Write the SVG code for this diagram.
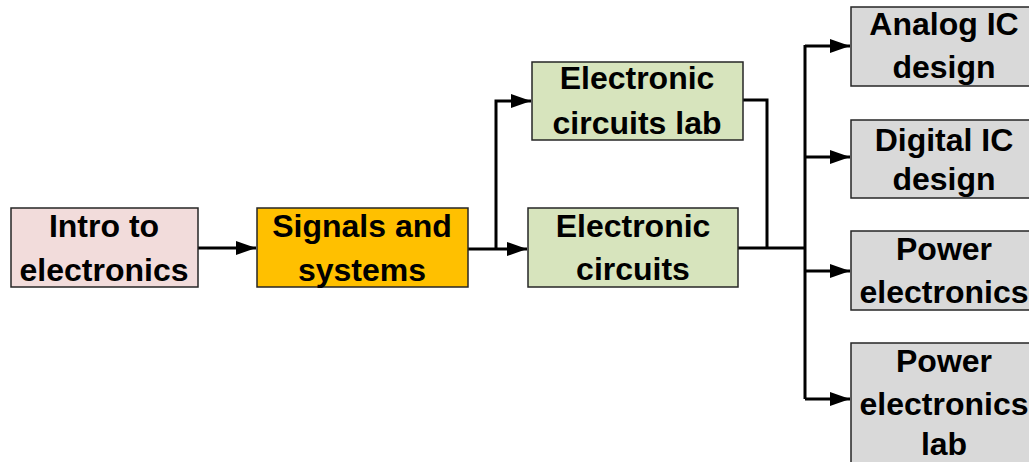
<svg xmlns="http://www.w3.org/2000/svg" width="1029" height="462" viewBox="0 0 1029 462">
<style>
.box{stroke:#262626;stroke-width:1.5}
.t{font-family:"Liberation Sans",Arial,sans-serif;font-weight:bold;font-size:32px;text-anchor:middle;fill:#000}
.c{fill:none;stroke:#000;stroke-width:3}
</style>
<defs>
<marker id="ah" markerUnits="userSpaceOnUse" markerWidth="20" markerHeight="14" refX="20" refY="7" orient="auto">
<path d="M0,0 L20,7 L0,14 z" fill="#000"/>
</marker>
</defs>
<rect width="1029" height="462" fill="#fff"/>
<g id="connectors">
<path class="c" d="M198,248 H256" marker-end="url(#ah)"/>
<path class="c" d="M468,249 H527" marker-end="url(#ah)"/>
<path class="c" d="M496,249 V101 H531" marker-end="url(#ah)"/>
<path class="c" d="M743,100 H767 V248"/>
<path class="c" d="M738,248 H805"/>
<path class="c" d="M805,45 V399"/>
<path class="c" d="M805,46 H850" marker-end="url(#ah)"/>
<path class="c" d="M805,157 H850" marker-end="url(#ah)"/>
<path class="c" d="M805,271 H850" marker-end="url(#ah)"/>
<path class="c" d="M805,399 H850" marker-end="url(#ah)"/>
</g>
<g id="intro">
<rect class="box" x="11" y="208" width="187" height="79" fill="#F2DCDB"/>
<text class="t" x="104" y="237">Intro to</text>
<text class="t" x="104" y="281">electronics</text>
</g>
<g id="signals">
<rect class="box" x="257" y="208" width="211" height="79" fill="#FFC000"/>
<text class="t" x="362" y="237">Signals and</text>
<text class="t" x="362" y="281">systems</text>
</g>
<g id="eclab">
<rect class="box" x="532" y="62" width="211" height="78" fill="#D7E4BD"/>
<text class="t" x="637" y="89">Electronic</text>
<text class="t" x="637" y="134">circuits lab</text>
</g>
<g id="ec">
<rect class="box" x="528" y="208" width="210" height="79" fill="#D7E4BD"/>
<text class="t" x="633" y="237">Electronic</text>
<text class="t" x="633" y="280">circuits</text>
</g>
<g id="analog">
<rect class="box" x="851" y="7" width="188" height="79" fill="#D9D9D9"/>
<text class="t" x="944" y="35">Analog IC</text>
<text class="t" x="944" y="78">design</text>
</g>
<g id="digital">
<rect class="box" x="851" y="120" width="188" height="78" fill="#D9D9D9"/>
<text class="t" x="944" y="151">Digital IC</text>
<text class="t" x="944" y="190">design</text>
</g>
<g id="power">
<rect class="box" x="851" y="231" width="188" height="79" fill="#D9D9D9"/>
<text class="t" x="944" y="260">Power</text>
<text class="t" x="944" y="303">electronics</text>
</g>
<g id="powerlab">
<rect class="box" x="851" y="343" width="188" height="130" fill="#D9D9D9"/>
<text class="t" x="944" y="372">Power</text>
<text class="t" x="944" y="415">electronics</text>
<text class="t" x="944" y="455">lab</text>
</g>
</svg>
